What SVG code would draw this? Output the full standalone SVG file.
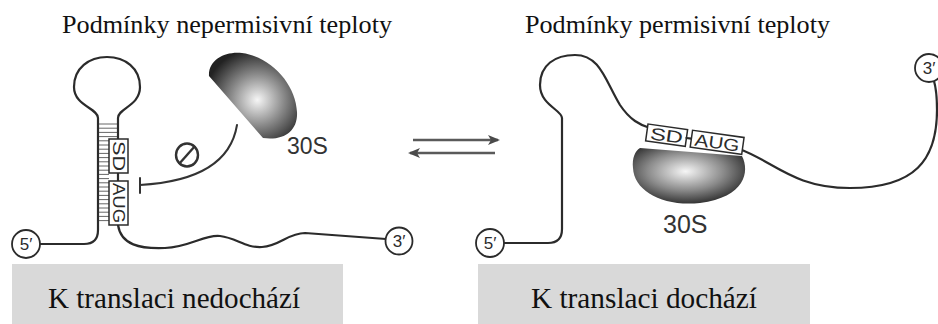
<svg xmlns="http://www.w3.org/2000/svg" width="938" height="324" viewBox="0 0 938 324">
  <style>
    .title { font-family: "Liberation Serif", "Times New Roman", serif; font-size: 26px; fill: #111; }
    .caption { font-family: "Liberation Serif", "Times New Roman", serif; font-size: 29px; fill: #111; }
    .band { fill: #d9d9d9; }
    .rna { fill: none; stroke: #2b2b2b; stroke-width: 2.2; stroke-linecap: round; stroke-linejoin: round; }
    .hatch { fill: none; stroke: #666; stroke-width: 1; }
    .end { fill: #fff; stroke: #2b2b2b; stroke-width: 1.8; }
    .endtxt { font-family: "Liberation Sans", Arial, sans-serif; font-size: 17px; fill: #2b2b2b; text-anchor: middle; }
    .box { fill: #fff; stroke: #2b2b2b; stroke-width: 1.5; }
    .boxtxt { font-family: "Liberation Sans", Arial, sans-serif; font-size: 17px; fill: #2b2b2b; text-anchor: middle; }
    .sub { font-family: "Liberation Sans", Arial, sans-serif; font-size: 23px; fill: #333; }
    .arrow { fill: none; stroke: #5a5a5a; stroke-width: 2.4; }
    .block { fill: none; stroke: #333; stroke-width: 2; stroke-linecap: round; }
  </style>
  <defs>
    <radialGradient id="riboA" cx="0.55" cy="0.55" r="0.6" fx="0.55" fy="0.55">
      <stop offset="0" stop-color="#f6f6f6"/>
      <stop offset="0.5" stop-color="#8a8a8a"/>
      <stop offset="1" stop-color="#222"/>
    </radialGradient>
    <radialGradient id="riboB" cx="0.47" cy="0.42" r="0.62" fx="0.47" fy="0.42">
      <stop offset="0" stop-color="#f6f6f6"/>
      <stop offset="0.55" stop-color="#8a8a8a"/>
      <stop offset="1" stop-color="#262626"/>
    </radialGradient>
    <marker id="head" viewBox="0 0 12 10" refX="10" refY="5" markerWidth="12" markerHeight="10" markerUnits="userSpaceOnUse" orient="auto">
      <path d="M0,0 L12,5 L0,10 L3,5 Z" fill="#4a4a4a"/>
    </marker>
  </defs>

  <!-- headings -->
  <g id="heading-left"><text class="title" x="62" y="33" textLength="330" lengthAdjust="spacingAndGlyphs">Podmínky nepermisivní teploty</text></g>
  <g id="heading-right"><text class="title" x="525" y="33" textLength="305" lengthAdjust="spacingAndGlyphs">Podmínky permisivní teploty</text></g>

  <!-- left: hairpin hides SD/AUG -->
  <g id="hairpin">
    <path class="hatch" d="M99,124h18 M99,128.2h18 M99,132.4h18 M99,136.6h18 M99,140.8h10 M99,145h10 M99,149.2h10 M99,153.4h10 M99,157.6h10 M99,161.8h10 M99,166h10 M99,170.2h10 M99,174.4h10 M99,178.6h10 M99,182.8h10 M99,187h10 M99,191.2h10 M99,195.4h10 M99,199.6h10 M99,203.8h10 M99,208h10 M99,212.2h10 M99,216.4h10 M99,220.6h10"/>
    <path class="rna" d="M40,244 L84,244 Q98,244 98,230 L98,118 C98,108 74,106 74,87 C74,68 89,57 107,57 C125,57 140,68 140,87 C140,106 118,108 118,118 L118,225 C121,245 140,249 165,248 C190,247 205,234 220,236 C237,238 245,248 262,247 C280,246 288,233 305,233 L386,239"/>
    <rect class="box" x="109" y="139" width="19" height="34"/>
    <rect class="box" x="109" y="181" width="19" height="44"/>
    <text class="boxtxt" transform="translate(118.5,156) rotate(90)" y="6" textLength="30" lengthAdjust="spacingAndGlyphs">SD</text>
    <text class="boxtxt" transform="translate(118.5,203) rotate(90)" y="6" textLength="40" lengthAdjust="spacingAndGlyphs">AUG</text>
  </g>
  <g id="end5-left">
    <circle class="end" cx="26" cy="244" r="14"/>
    <text class="endtxt" x="26" y="250">5′</text>
  </g>
  <g id="end3-left">
    <circle class="end" cx="399" cy="241" r="13.5"/>
    <text class="endtxt" x="399" y="247">3′</text>
  </g>

  <!-- left: free 30S subunit -->
  <g id="ribosome-left">
    <path d="M209,76 C208,60 225,51 242,53 C272,57 296,85 297,112 C298,130 285,141 263,138 Z" fill="url(#riboA)"/>
    <text class="sub" x="287" y="154">30S</text>
  </g>

  <!-- blocked binding -->
  <g id="connectors">
    <path class="block" d="M140,185 Q228,180 237,125"/>
    <path class="block" d="M140,178 L140,193"/>
    <g id="no-sign">
      <ellipse cx="187" cy="155" rx="11" ry="11.5" fill="none" stroke="#333" stroke-width="2.4"/>
      <path d="M179,164 L195,146" stroke="#333" stroke-width="2.4" fill="none"/>
    </g>
    <path class="arrow" d="M413,140 L498,140" marker-end="url(#head)"/>
    <path class="arrow" d="M495,153 L410,153" marker-end="url(#head)"/>
  </g>

  <!-- right: open mRNA bound by 30S -->
  <g id="ribosome-right">
    <path d="M640,148 L742,156 C750,172 745,197 700,203 C663,207 634,191 633,168 C632,158 635,151 640,148 Z" fill="url(#riboB)"/>
    <text class="sub" x="663" y="233" style="font-size:25px">30S</text>
  </g>
  <g id="open-mrna">
    <path class="rna" d="M504,243 L548,243 Q562,243 562,229 L562,118 C562,110 540,105 540,85 C540,65 555,55 575,55 C600,55 605,80 620,105 C630,120 640,125 650,128"/>
    <path class="rna" d="M742,150 C775,163 795,188 850,188 C915,188 937,160 937,110 C937,95 936,88 934,81"/>
    <g transform="translate(648,124) rotate(8)">
      <rect class="box" x="0" y="0" width="40" height="17"/>
      <path class="rna" d="M40,8.5 L45,8.5"/>
      <rect class="box" x="45" y="0" width="52" height="17"/>
      <text class="boxtxt" x="20" y="14.8" textLength="33" lengthAdjust="spacingAndGlyphs">SD</text>
      <text class="boxtxt" x="71" y="14.8" textLength="45" lengthAdjust="spacingAndGlyphs">AUG</text>
    </g>
  </g>
  <g id="end5-right">
    <circle class="end" cx="490" cy="243" r="14"/>
    <text class="endtxt" x="490" y="249">5′</text>
  </g>
  <g id="end3-right">
    <circle class="end" cx="929" cy="68" r="14"/>
    <text class="endtxt" x="929" y="74">3′</text>
  </g>

  <!-- outcome captions -->
  <g id="outcome-left">
    <rect class="band" x="12" y="264" width="331" height="60"/>
    <text class="caption" x="48" y="308" textLength="252" lengthAdjust="spacingAndGlyphs">K translaci nedochází</text>
  </g>
  <g id="outcome-right">
    <rect class="band" x="478" y="264" width="332" height="60"/>
    <text class="caption" x="531" y="308" textLength="226" lengthAdjust="spacingAndGlyphs">K translaci dochází</text>
  </g>
</svg>
